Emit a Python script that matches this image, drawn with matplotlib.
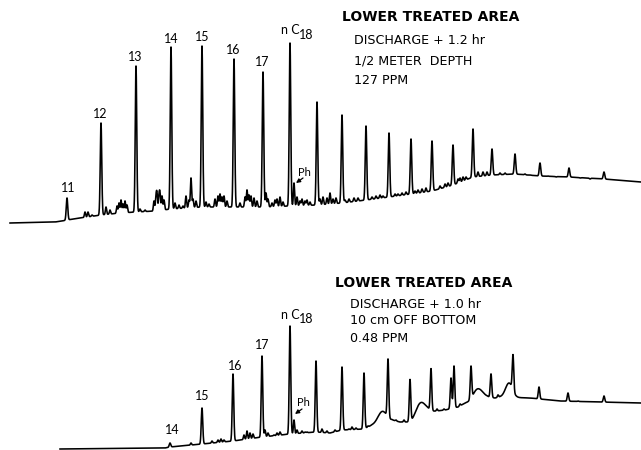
import numpy as np
import matplotlib
matplotlib.use("Agg")
import matplotlib.pyplot as plt

# ---------------- data (retention position, detector signal) ----------------
# Top chromatogram: 1/2 meter depth, 127 PPM
top_base_x = [10, 55, 62, 67, 80, 101, 120, 136, 155, 171, 202, 234, 263, 290, 317,
              342, 366, 389, 411, 432, 453, 473, 492, 515, 540, 569, 604, 641]
top_base_y = [2, 3, 4, 5, 7, 10, 12, 13, 14, 16, 18, 18, 18, 19, 20,
              22, 25, 28, 31, 34, 40, 48, 50, 51, 49, 48, 46, 43]
top_peak_x = [67, 101, 136, 171, 202, 234, 263, 290, 317, 342, 366, 389, 411, 432,
              453, 473, 492, 515, 540, 569, 604]
top_peak_y = [27, 102, 159, 178, 179, 166, 153, 182, 123, 110, 99, 92, 86, 84,
              80, 96, 76, 71, 62, 57, 53]
top_minor_x = [85, 88, 92, 106, 110, 117, 119, 121, 123, 125, 127, 140, 145,
               154, 156, 157, 159, 160, 162, 164, 175, 179, 183, 186, 189, 191, 193,
               196, 206, 209, 215, 218, 220, 222, 224, 227, 240, 245, 247, 249, 251,
               254, 257, 266, 268, 272, 275, 277, 280, 283, 294, 297, 300, 302, 305,
               307, 310, 320, 323, 327, 330, 333, 336, 345, 349, 354, 358, 372, 376,
               380, 383, 395, 398, 402, 406, 415, 418, 422, 426, 440, 445, 448, 458,
               460, 463, 466, 478, 483, 487, 500, 505, 525, 530, 548, 556, 580, 590]
top_minor_y = [13, 13, 10, 18, 15, 19, 22, 25, 21, 24, 20, 16, 15,
               24, 27, 30, 28, 30, 29, 25, 22, 20, 19, 29, 25, 47, 26,
               24, 23, 21, 26, 29, 31, 28, 29, 24, 22, 28, 35, 30, 29,
               27, 24, 32, 26, 22, 25, 26, 28, 23, 42, 28, 24, 26, 24,
               25, 23, 26, 28, 27, 32, 26, 27, 25, 26, 27, 27, 28, 29,
               30, 29, 31, 31, 32, 33, 34, 35, 36, 37, 39, 41, 42, 46,
               47, 48, 48, 53, 53, 53, 52, 52, 51, 50, 49, 48, 47, 46]
top_labels = ["11", "12", "13", "14", "15", "16", "17"]
top_label_x = [68, 100, 135, 171, 202, 233, 262]
top_label_y = [37, 111, 168, 186, 188, 175, 163]

# Bottom chromatogram: 10 cm off bottom, 0.48 PPM
bot_base_x = [60, 165, 170, 202, 233, 262, 290, 316, 330, 342, 364, 372, 392, 400,
              410, 428, 445, 458, 465, 487, 495, 500, 530, 560, 600, 641]
bot_base_y = [1, 2, 3, 6, 9, 13, 16, 18, 17, 20, 21, 25, 30, 28,
              28, 38, 40, 43, 47, 53, 52, 53, 52, 49, 48, 47]
bot_peak_x = [170, 202, 233, 262, 290, 316, 342, 364, 388, 410, 431, 451, 454, 471,
              491, 513, 539, 568, 604]
bot_peak_y = [7, 42, 76, 94, 124, 89, 83, 77, 87, 70, 80, 72, 84, 81,
              76, 88, 63, 57, 54]
bot_minor_x = [191, 212, 218, 221, 224, 244, 247, 250, 253, 265, 268, 274, 277, 280,
               294, 297, 302, 305, 307, 322, 327, 335, 349, 352, 356, 368, 380, 384,
               396, 404, 418, 422, 426, 437, 444, 460, 476, 481, 498, 509, 550, 578]
bot_minor_y = [7, 9, 10, 11, 10, 15, 19, 17, 16, 20, 17, 15, 17, 18,
               30, 20, 19, 18, 18, 21, 19, 20, 21, 23, 22, 24, 33, 35,
               30, 30, 40, 42, 40, 41, 41, 46, 58, 57, 55, 67, 50, 49]
bot_labels = ["14", "15", "16", "17"]
bot_label_x = [172, 202, 235, 262]
bot_label_y = [20, 54, 84, 105]

top_text = ["DISCHARGE + 1.2 hr", "1/2 METER  DEPTH", "127 PPM"]
bot_text = ["DISCHARGE + 1.0 hr", "10 cm OFF BOTTOM", "0.48 PPM"]
title = "LOWER TREATED AREA"

broad_x = (380, 384, 418, 422, 426, 476, 481, 509)


def trace(base_x, base_y, px, py, mx, my, start, broad):
    x = np.arange(start, 641.01, 0.1)
    base = np.interp(x, base_x, base_y)
    y = base.copy()
    for xi, yi in zip(mx, my):
        h = yi - np.interp(xi, base_x, base_y)
        w = 3.5 if (broad and xi in broad_x) else 0.6
        y += h * np.exp(-0.5 * ((x - xi) / w) ** 2)
    for xi, yi in zip(px, py):
        h = yi - np.interp(xi, base_x, base_y)
        y += h * np.exp(-0.5 * ((x - xi) / 0.75) ** 2)
    return x, y


fig = plt.figure(figsize=(6.41, 4.5), dpi=100)
ax1 = fig.add_axes([0, 0.5, 1, 0.5])
ax2 = fig.add_axes([0, 0.0, 1, 0.5])
for ax in (ax1, ax2):
    ax.set_xlim(0, 641)
    ax.set_ylim(0, 225)
    ax.axis("off")

x, y = trace(top_base_x, top_base_y, top_peak_x, top_peak_y, top_minor_x, top_minor_y, 10, False)
ax1.plot(x, y, color="black", lw=1.15, solid_joinstyle="round")
x, y = trace(bot_base_x, bot_base_y, bot_peak_x, bot_peak_y, bot_minor_x, bot_minor_y, 60, True)
ax2.plot(x, y, color="black", lw=1.15, solid_joinstyle="round")

lab_font = dict(family="Lato", fontsize=9, color="black", ha="center", va="center")
for t, lx, ly in zip(top_labels, top_label_x, top_label_y):
    ax1.text(lx, ly, t, **lab_font)
for t, lx, ly in zip(bot_labels, bot_label_x, bot_label_y):
    ax2.text(lx, ly, t, **lab_font)

# nC18 labels
ax1.text(290, 195, "n C", **lab_font)
ax1.text(306, 190, "18", **lab_font)
ax2.text(290, 135, "n C", **lab_font)
ax2.text(306, 131, "18", **lab_font)

# Ph labels with arrows
arrow = dict(arrowstyle="-|>", lw=0.9, color="black", mutation_scale=6,
             shrinkA=0, shrinkB=0)
ax1.text(304, 53, "Ph", family="Lato", fontsize=8, ha="center", va="center")
ax1.annotate("", xy=(296, 42), xytext=(303, 47), arrowprops=arrow)
ax2.text(303, 47, "Ph", family="Lato", fontsize=8, ha="center", va="center")
ax2.annotate("", xy=(295, 36), xytext=(302, 41), arrowprops=arrow)

# Titles and descriptions
ax1.text(342, 208, title, family="DejaVu Sans", fontweight="bold", fontsize=10,
         ha="left", va="center")
for t, ty in zip(top_text, [184, 164, 145]):
    ax1.text(354, ty, t, family="DejaVu Sans", fontsize=9.1, ha="left", va="center")
ax2.text(335, 167, title, family="DejaVu Sans", fontweight="bold", fontsize=10,
         ha="left", va="center")
for t, ty in zip(bot_text, [146, 129, 112]):
    ax2.text(350, ty, t, family="DejaVu Sans", fontsize=9.1, ha="left", va="center")

fig.savefig("out.png", dpi=100, facecolor="white")
